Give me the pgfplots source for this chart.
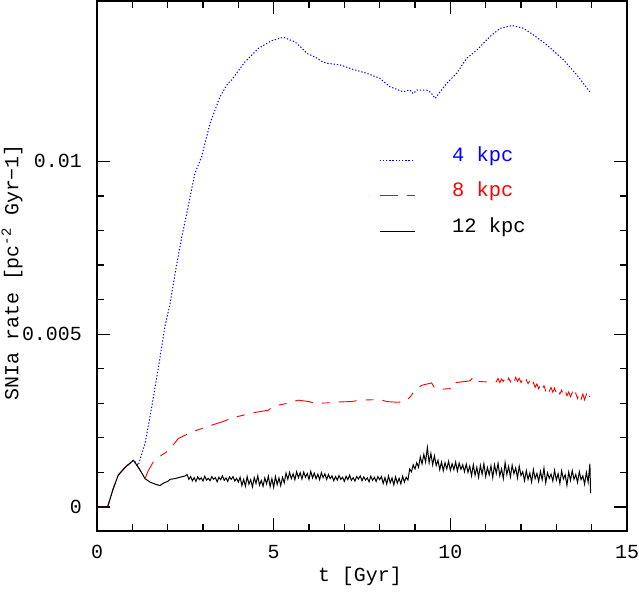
\documentclass[border=0pt]{standalone}
\usepackage{pgfplots}
\pgfplotsset{compat=1.18}
\usepackage{fontspec}
\setmainfont{Liberation Mono}
\begin{document}
\begin{tikzpicture}
\begin{axis}[
  scale only axis, width=530bp, height=530bp,
  at={(0,0)}, anchor=south west,
  xmin=0, xmax=15, ymin=-0.000695, ymax=0.01464,
  xtick={0,5,10,15}, xticklabels={0,5,10,15},
  ytick={0,0.005,0.01}, yticklabels={0,0.005,0.01},
  minor x tick num=4, minor y tick num=4,
  scaled y ticks=false,
  tick align=inside,
  major tick length=13bp, minor tick length=7bp,
  axis line style={line width=1.4bp},
  every tick/.style={line width=1.2bp, black},
  /pgf/number format/assume math mode=true,
  tick label style={font=\fontsize{20}{20}\selectfont, inner sep=0pt},
  xticklabel style={yshift=-14bp},
  yticklabel style={xshift=-15bp},
  label style={font=\fontsize{20}{20}\selectfont, inner sep=0pt},
  xlabel={t [Gyr]},
  ylabel={SNIa rate [pc\textsuperscript{-2} Gyr−1]},
  xlabel style={at={(axis description cs:0.496,-0.068)}, anchor=north},
  ylabel style={at={(axis description cs:-0.140,0.488)}, anchor=south},
  legend image code/.code={\draw[#1] (0bp,-6bp) -- (35bp,-6bp);},
  legend style={draw=none, fill=none, at={(axis cs:7.98,0.0104)}, anchor=north west,
    inner sep=0pt, row sep=21.2bp, column sep=37bp,
    font=\fontsize{20.5}{20}\selectfont,
    nodes={inner sep=0pt, text height=14bp, text depth=0bp}},
  legend cell align=left,
]
% 4 kpc
\addplot[blue, line width=1bp, dash pattern=on 1.3bp off 1.9bp] coordinates {
(0,0) (0.3,0) (0.45,0.00050) (0.6,0.00092) (0.8,0.00115) (1.03,0.00135)
(1.17,0.00121) (1.36,0.00184) (1.55,0.00290) (1.74,0.00405) (1.92,0.00521)
(2.07,0.00589) (2.21,0.00676) (2.40,0.00782) (2.54,0.00849) (2.65,0.00905)
(2.77,0.00965) (2.96,0.01013) (3.20,0.01110) (3.48,0.01187) (3.70,0.01225)
(3.81,0.01235) (4.00,0.01262) (4.19,0.01288) (4.57,0.01327) (4.94,0.01349)
(5.27,0.01359) (5.60,0.01346) (5.75,0.01332) (5.95,0.01312) (6.17,0.01302)
(6.35,0.01290) (6.50,0.01284) (6.88,0.01279) (7.25,0.01266) (7.63,0.01255)
(8.01,0.01240) (8.29,0.01216) (8.67,0.01201) (8.85,0.01207) (8.95,0.01196)
(9.05,0.01206) (9.33,0.01206) (9.45,0.01199) (9.57,0.01182) (9.70,0.01200)
(9.90,0.01226) (10.18,0.01255) (10.46,0.01298) (10.75,0.01322) (11.12,0.01361)
(11.41,0.01385) (11.75,0.01393) (12.07,0.01385) (12.35,0.01366) (12.73,0.01337)
(13.21,0.01293) (13.59,0.01249) (13.95,0.01201)
};
\addlegendentry{\textcolor{blue}{4 kpc}}
% 8 kpc
\addplot[red, line width=0.9bp, dash pattern=on 18bp off 9bp on 8bp off 9bp] coordinates {
(0,0) (0.3,0) (0.45,0.00050) (0.6,0.00092) (0.8,0.00115) (1.03,0.00135)
(1.2,0.00110) (1.36,0.00082)
(1.45,0.00105) (1.59,0.00130) (1.70,0.00140) (1.83,0.00150) (1.95,0.00158)
(2.07,0.00169) (2.20,0.00185) (2.30,0.00198) (2.50,0.00208) (2.68,0.00217)
(3.00,0.00228) (3.25,0.00237) (3.50,0.00245) (3.91,0.00260) (4.20,0.00267)
(4.50,0.00274) (4.85,0.00280) (5.00,0.00292) (5.30,0.00298) (5.70,0.00309)
(6.00,0.00305) (6.17,0.00300) (6.50,0.00301) (6.88,0.00304) (7.20,0.00305)
(7.44,0.00309) (8.01,0.00311) (8.20,0.00305) (8.50,0.00303) (8.72,0.00304)
(8.86,0.00318) (9.00,0.00338) (9.19,0.00352) (9.47,0.00359) (9.55,0.00345)
(9.62,0.00340) (10.09,0.00343) (10.16,0.00360) (10.56,0.00365) (10.65,0.00376)
(10.72,0.00365) (10.84,0.00363) (11.00,0.00362) (11.30,0.00362)
(11.35,0.00372) (11.40,0.00360) (11.45,0.00370) (11.50,0.00363) (11.55,0.00374)
(11.60,0.00361) (11.65,0.00373) (11.70,0.00362) (11.75,0.00371) (11.80,0.00359)
(11.85,0.00375) (11.90,0.00364) (11.95,0.00372) (12.00,0.00360) (12.05,0.00370)
(12.10,0.00358) (12.15,0.00368) (12.20,0.00357) (12.25,0.00366) (12.30,0.00350)
(12.35,0.00360) (12.40,0.00346) (12.45,0.00356) (12.50,0.00342) (12.55,0.00354)
(12.60,0.00340) (12.65,0.00351) (12.70,0.00336) (12.75,0.00348) (12.80,0.00335)
(12.85,0.00346) (12.90,0.00332) (12.95,0.00344) (13.00,0.00330) (13.05,0.00341)
(13.10,0.00327) (13.15,0.00338) (13.20,0.00324) (13.25,0.00336) (13.30,0.00322)
(13.35,0.00333) (13.40,0.00319) (13.45,0.00331) (13.50,0.00316) (13.55,0.00329)
(13.60,0.00314) (13.65,0.00328) (13.70,0.00312) (13.75,0.00327) (13.80,0.00310)
(13.85,0.00326) (13.90,0.00309) (13.95,0.00322)
};
\addlegendentry{\textcolor{red}{8 kpc}}
% 12 kpc
\addplot[black, line width=1bp] coordinates {
(0,0) (0.3,0) (0.45,0.00050) (0.6,0.00092) (0.8,0.00115) (1.03,0.00135)
(1.2,0.00110) (1.36,0.00082) (1.5,0.00072) (1.65,0.00066) (1.78,0.00062)
(1.9,0.00070) (2.0,0.00074) (2.07,0.00080) (2.2,0.00082) (2.35,0.00086)
(2.5,0.00090) (2.55,0.00094) (2.6,0.00080)
(2.65,0.00088) (2.70,0.00076) (2.75,0.00085) (2.80,0.00074) (2.85,0.00087)
(2.90,0.00079) (2.95,0.00084) (3.00,0.00075) (3.05,0.00089) (3.10,0.00078)
(3.15,0.00083) (3.20,0.00076) (3.25,0.00088) (3.30,0.00080) (3.35,0.00085)
(3.40,0.00073) (3.45,0.00086) (3.50,0.00079) (3.55,0.00090) (3.60,0.00077)
(3.65,0.00084) (3.70,0.00074) (3.75,0.00087) (3.80,0.00080) (3.85,0.00088)
(3.90,0.00075) (3.95,0.00083) (4.00,0.00072)
(4.05,0.00086) (4.10,0.00062) (4.15,0.00080) (4.20,0.00060) (4.25,0.00088)
(4.30,0.00066) (4.35,0.00079) (4.40,0.00058) (4.45,0.00085) (4.50,0.00068)
(4.55,0.00090) (4.60,0.00063) (4.65,0.00077) (4.70,0.00060) (4.75,0.00084)
(4.80,0.00067) (4.85,0.00089) (4.90,0.00059) (4.95,0.00082) (5.00,0.00057)
(5.05,0.00088) (5.10,0.00065) (5.15,0.00084) (5.20,0.00062) (5.25,0.00086)
(5.30,0.00070)
(5.35,0.00098) (5.40,0.00080) (5.45,0.00100) (5.50,0.00082) (5.55,0.00096)
(5.60,0.00079) (5.65,0.00102) (5.70,0.00085) (5.75,0.00099) (5.80,0.00081)
(5.85,0.00101) (5.90,0.00086) (5.95,0.00097) (6.00,0.00080) (6.05,0.00103)
(6.10,0.00084) (6.15,0.00098) (6.20,0.00082) (6.25,0.00095) (6.30,0.00079)
(6.35,0.00099) (6.40,0.00085) (6.45,0.00096) (6.50,0.00080) (6.55,0.00094)
(6.60,0.00082)
(6.65,0.00090) (6.70,0.00076) (6.75,0.00088) (6.80,0.00078) (6.85,0.00091)
(6.90,0.00080) (6.95,0.00086) (7.00,0.00074) (7.05,0.00089) (7.10,0.00079)
(7.15,0.00092) (7.20,0.00077) (7.25,0.00085) (7.30,0.00075) (7.35,0.00088)
(7.40,0.00081) (7.45,0.00090) (7.50,0.00076) (7.55,0.00087) (7.60,0.00078)
(7.65,0.00084) (7.70,0.00073) (7.75,0.00089) (7.80,0.00077) (7.85,0.00086)
(7.90,0.00074) (7.95,0.00088) (8.00,0.00079)
(8.05,0.00088) (8.10,0.00068) (8.15,0.00085) (8.20,0.00066) (8.25,0.00090)
(8.30,0.00070) (8.35,0.00084) (8.40,0.00064) (8.45,0.00087) (8.50,0.00069)
(8.55,0.00083) (8.60,0.00067) (8.65,0.00089) (8.70,0.00072) (8.75,0.00086)
(8.80,0.00078)
(8.85,0.00110) (8.90,0.00102) (8.95,0.00122) (9.00,0.00110) (9.05,0.00128)
(9.10,0.00115)
(9.15,0.00145) (9.20,0.00125) (9.25,0.00152) (9.30,0.00130) (9.35,0.00172)
(9.40,0.00128) (9.45,0.00155) (9.50,0.00122) (9.55,0.00148) (9.60,0.00120)
(9.65,0.00135) (9.70,0.00108) (9.75,0.00130) (9.80,0.00105) (9.85,0.00128)
(9.90,0.00110) (9.95,0.00132) (10.00,0.00106) (10.05,0.00125) (10.10,0.00108)
(10.15,0.00130) (10.20,0.00104) (10.25,0.00127) (10.30,0.00109) (10.35,0.00122)
(10.40,0.00102) (10.45,0.00124) (10.50,0.00100)
(10.55,0.00118) (10.60,0.00090) (10.65,0.00122) (10.70,0.00092) (10.75,0.00115)
(10.80,0.00086) (10.85,0.00120) (10.90,0.00095) (10.95,0.00125) (11.00,0.00088)
(11.05,0.00114) (11.10,0.00093) (11.15,0.00119) (11.20,0.00085) (11.25,0.00122)
(11.30,0.00097) (11.35,0.00126) (11.40,0.00090) (11.45,0.00110) (11.50,0.00082)
(11.55,0.00128) (11.60,0.00094) (11.65,0.00117) (11.70,0.00087) (11.75,0.00121)
(11.80,0.00096) (11.85,0.00113) (11.90,0.00084) (11.95,0.00118) (12.00,0.00091)
(12.05,0.00102) (12.10,0.00076) (12.15,0.00105) (12.20,0.00080) (12.25,0.00098)
(12.30,0.00072) (12.35,0.00108) (12.40,0.00082) (12.45,0.00097) (12.50,0.00074)
(12.55,0.00103) (12.60,0.00079) (12.65,0.00112) (12.70,0.00070) (12.75,0.00099)
(12.80,0.00083) (12.85,0.00095) (12.90,0.00075) (12.95,0.00106) (13.00,0.00078)
(13.05,0.00096) (13.10,0.00068) (13.15,0.00104) (13.20,0.00081) (13.25,0.00093)
(13.30,0.00063) (13.35,0.00101) (13.40,0.00077) (13.45,0.00105) (13.50,0.00080)
(13.55,0.00094) (13.60,0.00071) (13.65,0.00102) (13.70,0.00079) (13.75,0.00090)
(13.80,0.00066) (13.85,0.00100) (13.90,0.00072) (13.95,0.00125) (13.97,0.00040)
};
\addlegendentry{12 kpc}
\end{axis}
\pgfresetboundingbox
\path (-97bp,-61bp) rectangle (542bp,531bp);
\end{tikzpicture}
\end{document}
